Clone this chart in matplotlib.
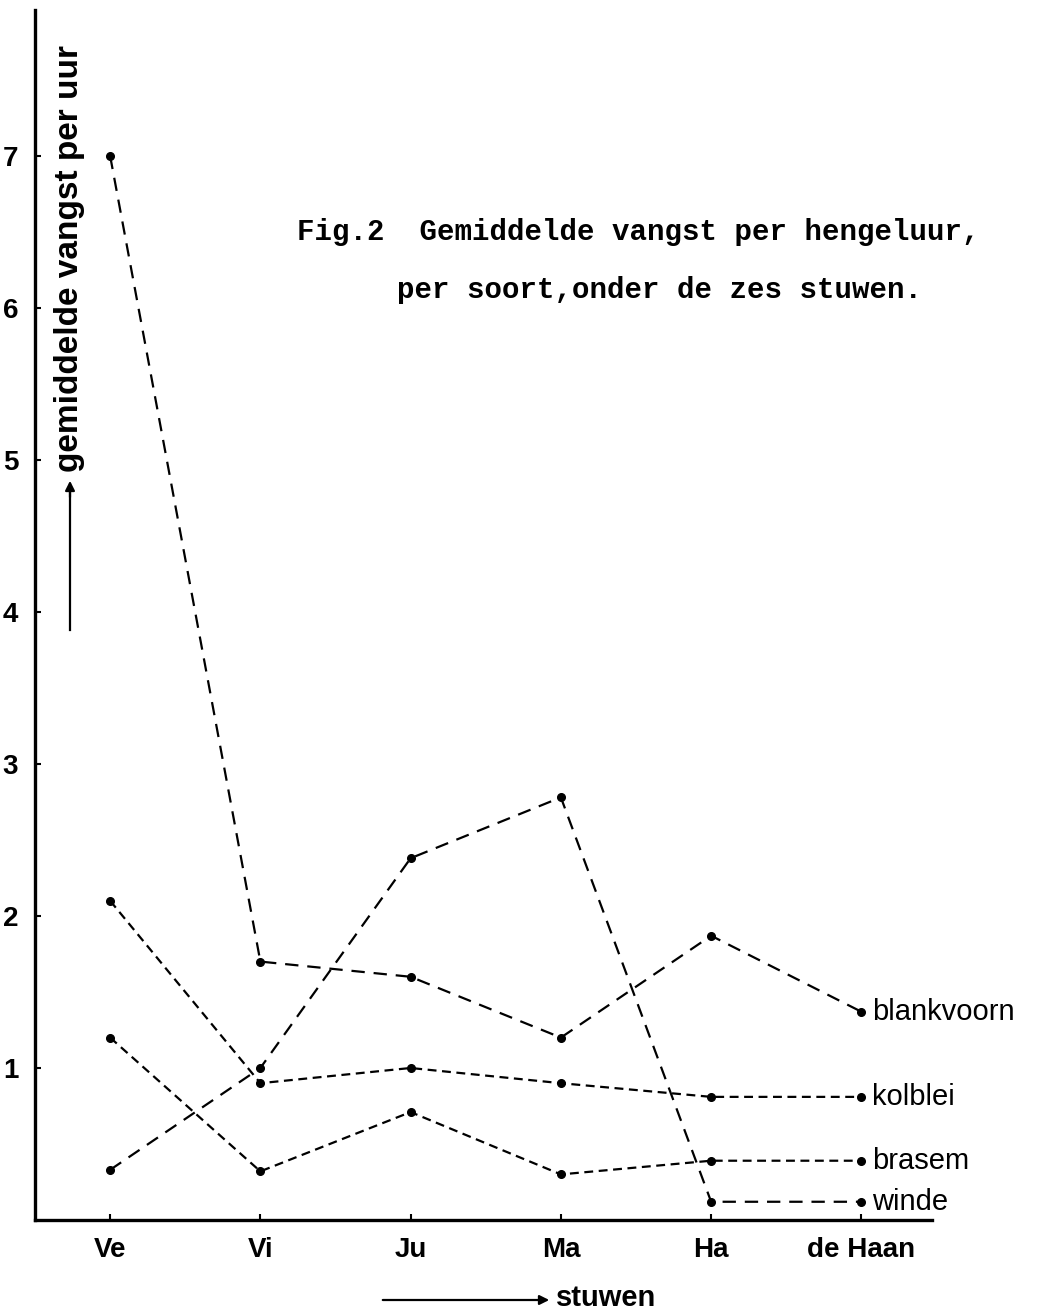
import matplotlib
matplotlib.use("Agg")
import matplotlib.pyplot as plt

stuwen = ["Ve", "Vi", "Ju", "Ma", "Ha", "de Haan"]

blankvoorn = [7.0, 1.7, 1.6, 1.2, 1.87, 1.37]
kolblei = [2.1, 0.9, 1.0, 0.9, 0.81, 0.81]
brasem = [1.2, 0.32, 0.71, 0.3, 0.39, 0.39]
winde = [0.33, 1.0, 2.38, 2.78, 0.12, 0.12]

series = [
    ("blankvoorn", blankvoorn, (6, 4)),
    ("kolblei", kolblei, (4, 2.5)),
    ("brasem", brasem, (4, 2.5)),
    ("winde", winde, (6, 4)),
]

W, H = 1040, 1315
fig = plt.figure(figsize=(W / 100, H / 100), dpi=100)
ax = fig.add_axes([35 / W, 1 - 1220 / H, (932 - 35) / W, (1220 - 10) / H])

x = list(range(len(stuwen)))
for name, vals, dash in series:
    ax.plot(x, vals, color="black", linewidth=1.6, dashes=dash,
            marker="o", markersize=5.5, clip_on=False)
    ax.annotate(name, (x[-1], vals[-1]), xytext=(8, 0),
                textcoords="offset points", va="center", ha="left",
                fontsize=21, family="Liberation Sans")

ax.set_xlim(-0.5, 5.47)
ax.set_ylim(0, 7.96)
ax.set_xticks(x)
ax.set_xticklabels(stuwen, fontsize=20, fontweight="bold", family="Liberation Sans")
ax.set_yticks(range(1, 8))
ax.set_yticklabels([str(v) for v in range(1, 8)], fontsize=20,
                   fontweight="bold", family="Liberation Sans")
ax.tick_params(direction="in", length=4, width=1.5, pad=12)
ax.tick_params(axis="y", pad=12)

for side in ("top", "right"):
    ax.spines[side].set_visible(False)
for side in ("left", "bottom"):
    ax.spines[side].set_linewidth(2.4)

# y-axis label with arrow
fig.text(70 / W, 1 - 258 / H, "gemiddelde vangst per uur", rotation=90,
         ha="center", va="center", fontsize=24, fontweight="bold",
         family="Liberation Sans")
fig.add_artist(plt.Line2D([70 / W, 70 / W], [1 - 630 / H, 1 - 490 / H],
                          color="black", linewidth=1.6))
ax.annotate("", xy=(70 / W, 1 - 478 / H), xytext=(70 / W, 1 - 500 / H),
            xycoords="figure fraction", textcoords="figure fraction",
            arrowprops=dict(arrowstyle="-|>", color="black", lw=1.6,
                            mutation_scale=14))

# x-axis label with arrow
ax.annotate("", xy=(552 / W, 1 - 1300 / H), xytext=(380 / W, 1 - 1300 / H),
            xycoords="figure fraction", textcoords="figure fraction",
            arrowprops=dict(arrowstyle="-|>", color="black", lw=1.6,
                            mutation_scale=14))
fig.text(556 / W, 1 - 1298 / H, "stuwen", ha="left", va="center",
         fontsize=21, fontweight="bold", family="Liberation Sans")

# title
fig.text(297 / W, 1 - 232 / H, "Fig.2  Gemiddelde vangst per hengeluur,",
         ha="left", va="center", fontsize=21, fontweight="bold",
         family="Liberation Mono")
fig.text(397 / W, 1 - 290 / H, "per soort,onder de zes stuwen.",
         ha="left", va="center", fontsize=21, fontweight="bold",
         family="Liberation Mono")

fig.savefig("out.png", dpi=100)
